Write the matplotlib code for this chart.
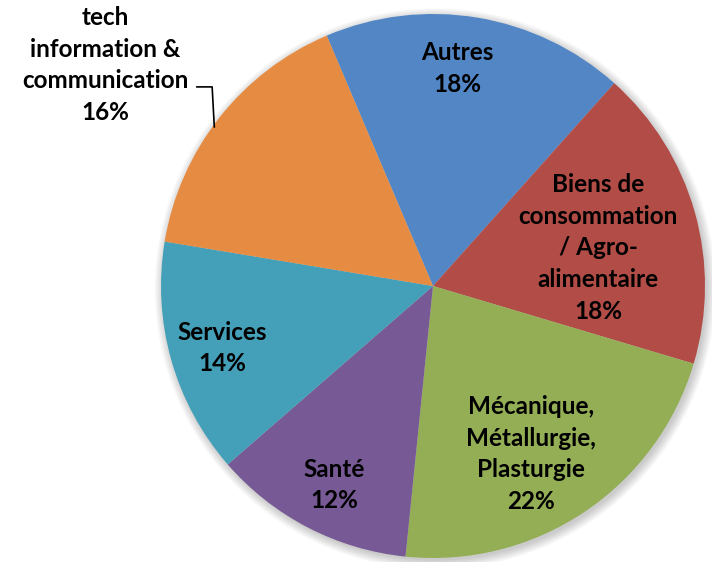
import numpy as np
import matplotlib
matplotlib.use("Agg")
import matplotlib.pyplot as plt
from matplotlib.patches import Circle

# data, clockwise starting from the top slice
labels = ["Autres", "Biens de\nconsommation\n/ Agro-\nalimentaire",
          "Mécanique,\nMétallurgie,\nPlasturgie", "Santé", "Services",
          "tech\ninformation &\ncommunication"]
values = [18, 18, 22, 12, 14, 16]
colors = ["#5286C5", "#B24C47", "#93AE55", "#775A95", "#44A0B8", "#E68B42"]

# label centres in pie units (radius = 1)
label_pos = [(0.088, 0.80), (0.607, 0.14), (0.36, -0.618),
             (-0.364, -0.732), (-0.776, -0.228), (-1.206, 0.812)]

plt.rcParams['font.family'] = ['Lato', 'DejaVu Sans']

fig = plt.figure(figsize=(7.12, 5.62), dpi=100)
ax = fig.add_axes([0, 0, 1, 1])

# soft shadow
for k in range(6):
    ax.add_patch(Circle((0.008, -0.010), 1.0 + k * 0.006, color="black",
                        alpha=0.035, lw=0, zorder=0))

wedges, _ = ax.pie(values, colors=colors, startangle=113, counterclock=False,
                   radius=1.0, wedgeprops=dict(linewidth=0))
for w in wedges:
    w.set_zorder(2)

for lab, v, (x, y) in zip(labels, values, label_pos):
    ax.text(x, y, f"{lab}\n{v}%", ha="center", va="center", fontsize=17.5,
            fontweight="bold", linespacing=1.45, color="black", zorder=3)

# leader line for the tech label
ax.plot([-0.868, -0.812, -0.804], [0.732, 0.732, 0.585], color="black",
        lw=1.2, zorder=3)

ax.set_xlim(-433 / 272, (712 - 433) / 272)
ax.set_ylim(-(562 - 286) / 272, 286 / 272)
ax.set_aspect("equal")
ax.axis("off")

fig.savefig("out.png", dpi=100)
